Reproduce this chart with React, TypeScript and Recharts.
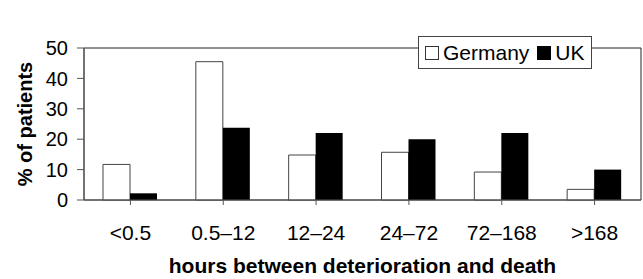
import { BarChart, Bar, XAxis, YAxis, Legend, ReferenceArea } from "recharts";

const categories = ["<0.5", "0.5–12", "12–24", "24–72", "72–168", ">168"];
const germany = [11.7, 45.5, 14.8, 15.7, 9.2, 3.5];
const uk = [2.2, 23.8, 22.0, 20.0, 22.0, 10.0];
const yTicks = [0, 10, 20, 30, 40, 50];

const font = "'Liberation Sans', Arial, sans-serif";

function LegendBox() {
    return (
        <div
            style={{
                border: "1px solid #444",
                background: "#fff",
                display: "flex",
                alignItems: "center",
                padding: "3px 6px",
                fontFamily: font,
                fontSize: 21,
                color: "#000",
                lineHeight: "25px",
            }}
        >
            <span style={{ width: 14, height: 14, border: "1px solid #333", background: "#fff", marginRight: 4, boxSizing: "border-box" }} />
            <span style={{ marginRight: 8 }}>Germany</span>
            <span style={{ width: 14, height: 14, background: "#000", marginRight: 4 }} />
            <span>UK</span>
        </div>
    );
}

export default function App() {
    const data = categories.map((c, i) => ({ cat: c, germany: germany[i], uk: uk[i] }));

    return (
        <div style={{ position: "absolute", left: 0, top: 0, width: 643, height: 279, background: "#fff" }}>
            <BarChart width={643} height={279} data={data} margin={{ top: 15, right: 2, left: 0, bottom: 0 }} barGap={0} barSize={27}>
                <XAxis
                    dataKey="cat"
                    height={79}
                    stroke="#555"
                    tickSize={5}
                    tickMargin={20}
                    tick={{ fill: "#000", fontSize: 21, fontFamily: font }}
                    label={{ value: "hours between deterioration and death", position: "insideBottom", offset: 6, style: { fill: "#000", fontSize: 21, fontWeight: "bold", fontFamily: font } }}
                />
                <YAxis
                    domain={[0, 50]}
                    ticks={yTicks}
                    width={84}
                    stroke="#555"
                    tickSize={7}
                    tickMargin={9}
                    tick={{ fill: "#000", fontSize: 20, fontFamily: font }}
                    label={{ value: "% of patients", angle: -90, position: "center", dx: -17, style: { fill: "#000", fontSize: 20, fontWeight: "bold", fontFamily: font } }}
                />
                <ReferenceArea x1="<0.5" x2=">168" y1={0} y2={50} fill="none" stroke="#222" strokeWidth={1} ifOverflow="visible" />
                <Legend
                    verticalAlign="top"
                    align="left"
                    wrapperStyle={{ position: "absolute", left: 418, top: 36, width: "auto" }}
                    content={() => <LegendBox />}
                />
                <Bar dataKey="germany" name="Germany" fill="#fff" stroke="#444" strokeWidth={1} isAnimationActive={false} />
                <Bar dataKey="uk" name="UK" fill="#000" isAnimationActive={false} />
            </BarChart>
        </div>
    );
}
